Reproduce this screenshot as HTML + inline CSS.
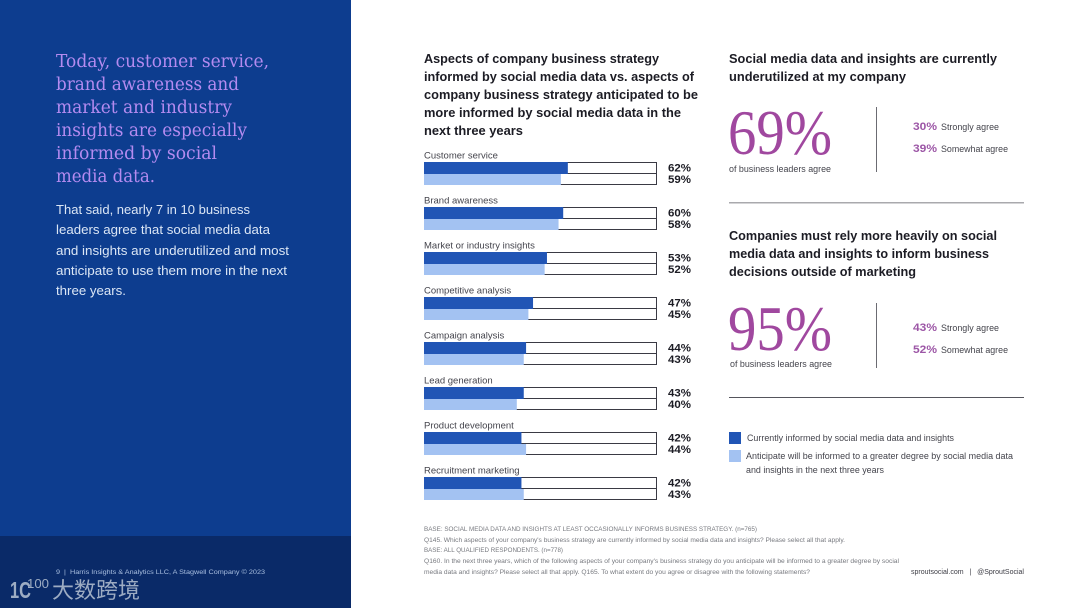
<!DOCTYPE html>
<html lang="en">
<head>
<meta charset="utf-8">
<title>Social media data report page</title>
<style>
html,body{margin:0;padding:0;background:#fff;width:1080px;height:608px;overflow:hidden}
svg{display:block}
text{font-family:"Liberation Sans","Noto Sans CJK SC",sans-serif}
.serif{font-family:"Liberation Serif","Noto Serif CJK SC",serif}
.h{font-size:13px;font-weight:700;fill:#1c1c24}
.lead{font-family:"DejaVu Serif","Liberation Serif",serif;font-size:17.5px;fill:#b48bf0}
.body{font-size:13px;fill:#dbe6f5}
.foot{font-size:6px;fill:#77797f}
.sm{font-size:9px;fill:#44444c}
.pct{font-size:11px;font-weight:700;fill:#9c56a6}
</style>
</head>
<body>
<svg id="page" width="1080" height="608" viewBox="0 0 1080 608" xmlns="http://www.w3.org/2000/svg">
  <rect width="1080" height="608" fill="#ffffff"/>
  <rect width="351" height="536" fill="#0d3d8f"/>
  <rect y="536" width="351" height="72" fill="#0a2a68"/>

  <g>
    <text class="lead" x="56" y="67" textLength="213" lengthAdjust="spacingAndGlyphs">Today, customer service,</text>
    <text class="lead" x="56" y="90" textLength="183" lengthAdjust="spacingAndGlyphs">brand awareness and</text>
    <text class="lead" x="56" y="113" textLength="176" lengthAdjust="spacingAndGlyphs">market and industry</text>
    <text class="lead" x="56" y="136" textLength="191" lengthAdjust="spacingAndGlyphs">insights are especially</text>
    <text class="lead" x="56" y="159" textLength="161" lengthAdjust="spacingAndGlyphs">informed by social</text>
    <text class="lead" x="56" y="182" textLength="99" lengthAdjust="spacingAndGlyphs">media data.</text>
  </g>
  <g>
    <text class="body" x="56" y="214" textLength="194" lengthAdjust="spacingAndGlyphs">That said, nearly 7 in 10 business</text>
    <text class="body" x="56" y="234" textLength="214" lengthAdjust="spacingAndGlyphs">leaders agree that social media data</text>
    <text class="body" x="56" y="255" textLength="233" lengthAdjust="spacingAndGlyphs">and insights are underutilized and most</text>
    <text class="body" x="56" y="275" textLength="231" lengthAdjust="spacingAndGlyphs">anticipate to use them more in the next</text>
    <text class="body" x="56" y="295" textLength="70" lengthAdjust="spacingAndGlyphs">three years.</text>
  </g>

  <text x="56" y="574" font-size="6.5" fill="#a9bfe0" textLength="209" lengthAdjust="spacingAndGlyphs" xml:space="preserve">9  |  Harris Insights &amp; Analytics LLC, A Stagwell Company © 2023</text>
  <g opacity=".9">
    <text x="10" y="598" font-size="23" font-weight="700" fill="#aebbcd" textLength="21" lengthAdjust="spacingAndGlyphs">1C</text>
    <text x="27" y="588" font-size="13" fill="#aebbcd" textLength="22" lengthAdjust="spacingAndGlyphs">100</text>
    <text x="52" y="598" font-size="22" fill="#aebbcd" textLength="88" lengthAdjust="spacingAndGlyphs">大数跨境</text>
  </g>

  <g>
    <text class="h" x="424" y="63" textLength="235" lengthAdjust="spacingAndGlyphs">Aspects of company business strategy</text>
    <text class="h" x="424" y="81" textLength="270" lengthAdjust="spacingAndGlyphs">informed by social media data vs. aspects of</text>
    <text class="h" x="424" y="99" textLength="274" lengthAdjust="spacingAndGlyphs">company business strategy anticipated to be</text>
    <text class="h" x="424" y="117" textLength="257" lengthAdjust="spacingAndGlyphs">more informed by social media data in the</text>
    <text class="h" x="424" y="135" textLength="99" lengthAdjust="spacingAndGlyphs">next three years</text>
  </g>
  <g id="chart"></g>

  <g>
    <text class="h" x="729" y="63" textLength="268" lengthAdjust="spacingAndGlyphs">Social media data and insights are currently</text>
    <text class="h" x="729" y="81" textLength="177" lengthAdjust="spacingAndGlyphs">underutilized at my company</text>
    <text class="serif" x="728" y="154" font-size="63" fill="#a0489f" textLength="104" lengthAdjust="spacingAndGlyphs">69%</text>
    <text class="sm" x="729" y="172" textLength="102" lengthAdjust="spacingAndGlyphs">of business leaders agree</text>
    <rect x="876" y="107" width="1" height="65" fill="#6b6b72"/>
    <text class="pct" x="913" y="130" textLength="24" lengthAdjust="spacingAndGlyphs">30%</text>
    <text class="sm" x="941" y="130" textLength="58" lengthAdjust="spacingAndGlyphs">Strongly agree</text>
    <text class="pct" x="913" y="152" textLength="24" lengthAdjust="spacingAndGlyphs">39%</text>
    <text class="sm" x="941" y="152" textLength="67" lengthAdjust="spacingAndGlyphs">Somewhat agree</text>
  </g>
  <rect x="729" y="202" width="295" height="1.5" fill="#a9a9ad"/>

  <g>
    <text class="h" x="729" y="240" textLength="268" lengthAdjust="spacingAndGlyphs">Companies must rely more heavily on social</text>
    <text class="h" x="729" y="258" textLength="260" lengthAdjust="spacingAndGlyphs">media data and insights to inform business</text>
    <text class="h" x="729" y="276" textLength="187" lengthAdjust="spacingAndGlyphs">decisions outside of marketing</text>
    <text class="serif" x="728" y="350" font-size="63" fill="#a0489f" textLength="104" lengthAdjust="spacingAndGlyphs">95%</text>
    <text class="sm" x="730" y="367" textLength="102" lengthAdjust="spacingAndGlyphs">of business leaders agree</text>
    <rect x="876" y="303" width="1" height="65" fill="#6b6b72"/>
    <text class="pct" x="913" y="331" textLength="24" lengthAdjust="spacingAndGlyphs">43%</text>
    <text class="sm" x="941" y="331" textLength="58" lengthAdjust="spacingAndGlyphs">Strongly agree</text>
    <text class="pct" x="913" y="353" textLength="24" lengthAdjust="spacingAndGlyphs">52%</text>
    <text class="sm" x="941" y="353" textLength="67" lengthAdjust="spacingAndGlyphs">Somewhat agree</text>
  </g>
  <rect x="729" y="397" width="295" height="1" fill="#55555c"/>

  <g>
    <g>
      <rect x="729" y="432" width="12" height="12" fill="#2155b5"/>
      <text class="sm" x="747" y="441" textLength="207" lengthAdjust="spacingAndGlyphs">Currently informed by social media data and insights</text>
    </g>
    <g>
      <rect x="729" y="450" width="12" height="12" fill="#a3c2f2"/>
      <text class="sm" x="746" y="459" textLength="267" lengthAdjust="spacingAndGlyphs">Anticipate will be informed to a greater degree by social media data</text>
      <text class="sm" x="746" y="473" textLength="138" lengthAdjust="spacingAndGlyphs">and insights in the next three years</text>
    </g>
  </g>

  <g>
    <text class="foot" x="424" y="531" textLength="333" lengthAdjust="spacingAndGlyphs">BASE: SOCIAL MEDIA DATA AND INSIGHTS AT LEAST OCCASIONALLY INFORMS BUSINESS STRATEGY. (n=765)</text>
    <text class="foot" x="424" y="542" textLength="421" lengthAdjust="spacingAndGlyphs">Q145. Which aspects of your company's business strategy are currently informed by social media data and insights? Please select all that apply.</text>
    <text class="foot" x="424" y="552" textLength="139" lengthAdjust="spacingAndGlyphs">BASE: ALL QUALIFIED RESPONDENTS. (n=778)</text>
    <text class="foot" x="424" y="563" textLength="475" lengthAdjust="spacingAndGlyphs">Q160. In the next three years, which of the following aspects of your company's business strategy do you anticipate will be informed to a greater degree by social</text>
    <text class="foot" x="424" y="574" textLength="386" lengthAdjust="spacingAndGlyphs">media data and insights? Please select all that apply. Q165. To what extent do you agree or disagree with the following statements?</text>
  </g>
  <text x="911" y="574" font-size="7" fill="#3c3c44" textLength="113" lengthAdjust="spacingAndGlyphs" xml:space="preserve">sproutsocial.com   |   @SproutSocial</text>
</svg>
<script>
var categories = ["Customer service","Brand awareness","Market or industry insights","Competitive analysis","Campaign analysis","Lead generation","Product development","Recruitment marketing"];
var currentValues = [62,60,53,47,44,43,42,42];
var anticipatedValues = [59,58,52,45,43,40,44,43];
var axisMax = 100;

var NS = 'http://www.w3.org/2000/svg';
var chart = document.getElementById('chart');
function xScale(v){ return 232 * v / axisMax; }
function rowTop(i){ return 162 + 45 * i; }
function make(tag, attrs, txt){
  var el = document.createElementNS(NS, tag);
  for (var k in attrs) el.setAttribute(k, attrs[k]);
  if (txt !== undefined) el.textContent = txt;
  chart.appendChild(el);
  return el;
}
categories.forEach(function(name, i){
  var top = rowTop(i), el;
  el = make('text', {x:424, y:top-3.5, 'font-size':9.5, fill:'#44444c'}, name);
  
  
  el = make('rect', {x:424.5, y:top+0.5, width:232, height:11, fill:'#fff', stroke:'#3a3a44', 'stroke-width':1});
  
  
  el = make('rect', {x:424.5, y:top+11.5, width:232, height:11, fill:'#fff', stroke:'#3a3a44', 'stroke-width':1});
  
  
  el = make('rect', {x:424, y:top, width:xScale(currentValues[i]), height:12, fill:'#2155b5'});
  
  
  el = make('rect', {x:424, y:top+12, width:xScale(anticipatedValues[i]), height:11, fill:'#a3c2f2'});
  
  
  el = make('text', {x:668, y:top+9.5, 'font-size':11, 'font-weight':700, fill:'#1c1c24', textLength:23, lengthAdjust:'spacingAndGlyphs'}, currentValues[i] + '%');
  
  
  el = make('text', {x:668, y:top+21, 'font-size':11, 'font-weight':700, fill:'#1c1c24', textLength:23, lengthAdjust:'spacingAndGlyphs'}, anticipatedValues[i] + '%');
  
  
});
</script>
</body>
</html>
